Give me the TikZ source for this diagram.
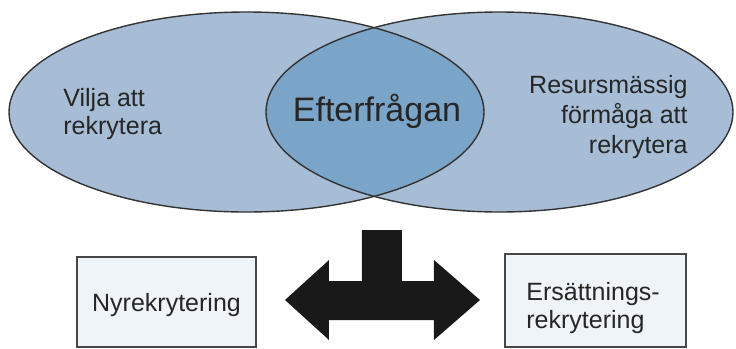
\documentclass[tikz,border=0pt]{standalone}
\usepackage{fontspec}
\setmainfont{Liberation Sans}
\usetikzlibrary{positioning}

\definecolor{setblue}{HTML}{A7BDD6}
\definecolor{lensblue}{HTML}{7BA5C8}
\definecolor{boxfill}{HTML}{EEF4F8}
\definecolor{edgegray}{HTML}{333333}

\begin{document}
\begin{tikzpicture}[
  x=0.5pt, y=-0.5pt,
  every node/.style={font=\fontsize{12.5}{14}\selectfont, inner sep=0pt, text=black!85},
  setline/.style={draw=edgegray, line width=0.7pt},
  box/.style={draw=edgegray!90, line width=1pt, fill=boxfill},
  bigarrow/.style={fill=black!90}
]
\useasboundingbox (0,0) rectangle (736,349);

% Sets
\coordinate (wish) at (246.5,112);
\coordinate (means) at (499.5,112);
\fill[setblue] (wish) ellipse [x radius=237.5, y radius=100];
\fill[setblue] (means) ellipse [x radius=233.5, y radius=100];
\begin{scope}
  \clip (wish) ellipse [x radius=237.5, y radius=100];
  \fill[lensblue] (means) ellipse [x radius=233.5, y radius=100];
\end{scope}
\draw[setline] (wish) ellipse [x radius=237.5, y radius=100];
\draw[setline] (means) ellipse [x radius=233.5, y radius=100];

% Labels
\node[anchor=base west, align=left] (vilja) at (63,134) {Vilja att\\rekrytera};
\node[anchor=base, font=\fontsize{17}{20}\selectfont] (efterfragan) at (377,121) {Efterfrågan};
\node[anchor=base east, align=right, font=\fontsize{12.5}{15}\selectfont] (resurs) at (688,153) {Resursmässig\\förmåga att\\rekrytera};

% Boxes
\node[box, minimum width=89.5pt, minimum height=45pt, text depth=0pt] (nyrek) at (166.5,302) {Nyrekrytering};
\node[box, minimum width=90.5pt, minimum height=46.5pt] (ersatt) at (595.5,300.5) {};
\node[anchor=base west, align=left] (ersatttext) at (526,328) {Ersättnings-\\rekrytering};

% Split arrow
\fill[bigarrow] (362,230) -- (402,230) -- (402,281) -- (434,281) -- (434,260)
  -- (480,300) -- (434,340) -- (434,320) -- (329,320) -- (329,340)
  -- (285,300) -- (329,260) -- (329,281) -- (362,281) -- cycle;

\end{tikzpicture}
\end{document}
